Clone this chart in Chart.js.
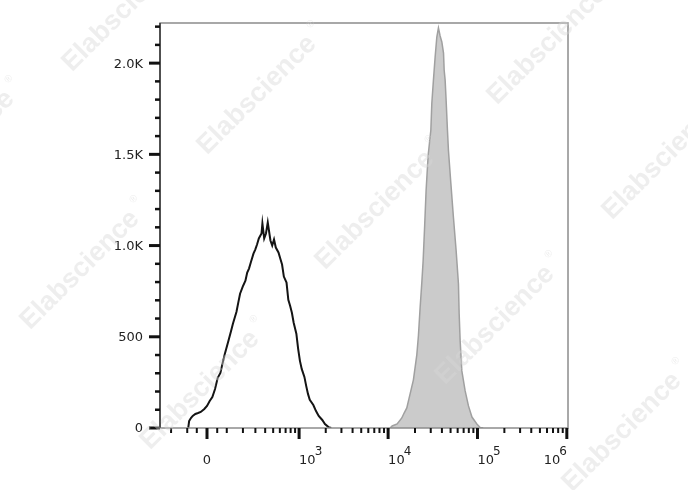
<!DOCTYPE html>
<html>
<head>
<meta charset="utf-8">
<script src="https://cdn.jsdelivr.net/npm/chart.js@4.4.1/dist/chart.umd.min.js"></script>
<style>
html, body { margin: 0; padding: 0; background: #fff; }
#wrap { width: 688px; height: 490px; position: relative; }
</style>
</head>
<body>
<div id="wrap"><canvas id="histChart" width="688" height="490"></canvas></div>
<script>
// x values are in biex display units (one decade = 1.0, zero at 0)
const unstainedX = [-0.21, -0.20, -0.18, -0.16, -0.13, -0.10, -0.07, -0.03, 0.00, 0.03, 0.06, 0.09, 0.12, 0.15, 0.17, 0.20,
    0.24, 0.27, 0.29, 0.33, 0.35, 0.37, 0.40, 0.43, 0.45, 0.47, 0.49, 0.52, 0.54, 0.56, 0.58, 0.61, 0.62, 0.64, 0.66, 0.68,
    0.71, 0.73, 0.75, 0.77, 0.80, 0.82, 0.84, 0.86, 0.89, 0.91, 0.93, 0.95, 0.97, 1.00, 1.02, 1.04, 1.06, 1.09, 1.11, 1.13,
    1.15, 1.19, 1.22, 1.25, 1.29, 1.32, 1.36, 1.39];
const unstainedY = [0, 38, 55, 66, 77, 82, 88, 104, 121, 148, 170, 214, 275, 302, 346, 407,
    478, 533, 571, 637, 687, 736, 775, 808, 852, 874, 907, 956, 978, 1006, 1039, 1066, 1121, 1039, 1066, 1126,
    1028, 1000, 1033, 989, 962, 929, 896, 830, 797, 703, 670, 632, 577, 517, 434, 368, 324, 280, 231, 187,
    154, 126, 93, 66, 44, 22, 5, 0];

const stainedX = [2.049, 2.072, 2.128, 2.180, 2.206, 2.236, 2.273, 2.310, 2.348, 2.366, 2.385, 2.404, 2.419, 2.436,
    2.452, 2.475, 2.505, 2.516, 2.534, 2.553, 2.572, 2.590, 2.609, 2.628, 2.647, 2.654, 2.665, 2.676, 2.691, 2.702,
    2.729, 2.758, 2.788, 2.814, 2.822, 2.833, 2.852, 2.889, 2.926, 2.965, 3.020, 3.057, 3.091];
const stainedY = [0, 11, 22, 55, 82, 110, 187, 264, 401, 506, 659, 797, 918, 1110,
    1302, 1495, 1632, 1780, 1907, 2033, 2143, 2193, 2149, 2116, 2055, 1962, 1907, 1797, 1632, 1522,
    1341, 1154, 973, 791, 626, 478, 313, 203, 121, 60, 22, 3, 0];

const yTickValues = [0, 500, 1000, 1500, 2000];
const yTickLabels = ["0", "500", "1.0K", "1.5K", "2.0K"];
const xTickValues = [0, 1e3, 1e4, 1e5, 1e6];
const xTickBase = ["0", "10", "10", "10", "10"];
const xTickExp = ["", "3", "4", "5", "6"];
const watermarkText = "Elabscience";

// biex-like transform: raw value -> display units
function biex(v) {
    return Math.asinh(v / 188) / Math.LN10;
}

function toPoints(xs, ys) {
    return xs.map((x, i) => ({ x: x, y: ys[i] }));
}

// minor ticks for the x axis (raw values)
let xMinor = [-300, -200, -100, -50, 50];
for (let k = 1; k <= 9; k++) xMinor.push(k * 100);
[1e3, 1e4, 1e5].forEach(d => {
    for (let k = 2; k <= 9; k++) xMinor.push(k * d);
});

const axisPlugin = {
    id: "flowAxes",
    afterDraw(chart) {
        const ctx = chart.ctx;
        const area = chart.chartArea;
        const xs = chart.scales.x;
        const ys = chart.scales.y;
        ctx.save();

        // frame
        ctx.strokeStyle = "#8c8c8c";
        ctx.lineWidth = 1.5;
        ctx.strokeRect(area.left, area.top, area.right - area.left, area.bottom - area.top);
        ctx.strokeStyle = "#333";
        ctx.beginPath();
        ctx.moveTo(area.left, area.top);
        ctx.lineTo(area.left, area.bottom);
        ctx.stroke();

        ctx.strokeStyle = "#111";
        // y ticks
        for (let v = 100; v <= 2200; v += 100) {
            if (v % 500 === 0) continue;
            let py = ys.getPixelForValue(v);
            ctx.lineWidth = 2.5;
            ctx.beginPath();
            ctx.moveTo(area.left - 5, py);
            ctx.lineTo(area.left, py);
            ctx.stroke();
        }
        ctx.font = "13px 'DejaVu Sans'";
        ctx.fillStyle = "#222";
        ctx.textAlign = "right";
        ctx.textBaseline = "middle";
        yTickValues.forEach((v, i) => {
            let py = ys.getPixelForValue(v);
            ctx.lineWidth = 3;
            ctx.beginPath();
            ctx.moveTo(area.left - 11, py);
            ctx.lineTo(area.left, py);
            ctx.stroke();
            ctx.fillText(yTickLabels[i], area.left - 17, py + 1);
        });

        // x ticks
        xMinor.forEach(v => {
            let px = xs.getPixelForValue(biex(v));
            if (px < area.left || px > area.right) return;
            ctx.lineWidth = 2;
            ctx.beginPath();
            ctx.moveTo(px, area.bottom);
            ctx.lineTo(px, area.bottom + 5);
            ctx.stroke();
        });
        ctx.textBaseline = "alphabetic";
        xTickValues.forEach((v, i) => {
            let px = xs.getPixelForValue(biex(v));
            ctx.lineWidth = 3;
            ctx.beginPath();
            ctx.moveTo(px, area.bottom);
            ctx.lineTo(px, area.bottom + 11);
            ctx.stroke();
            ctx.font = "13px 'DejaVu Sans'";
            if (xTickExp[i] === "") {
                ctx.textAlign = "center";
                ctx.fillText(xTickBase[i], px, area.bottom + 36);
                return;
            }
            let baseW = ctx.measureText(xTickBase[i]).width;
            ctx.font = "12px 'DejaVu Sans'";
            let expW = ctx.measureText(xTickExp[i]).width;
            let startX = (i === xTickValues.length - 1) ? px - baseW - expW + 1 : px;
            ctx.textAlign = "left";
            ctx.font = "13px 'DejaVu Sans'";
            ctx.fillText(xTickBase[i], startX, area.bottom + 36);
            ctx.font = "12px 'DejaVu Sans'";
            ctx.fillText(xTickExp[i], startX + baseW - 1, area.bottom + 27);
        });

        // watermark
        const marks = [[122, 12], [257, 95], [547, 45], [-45, 150], [662, 160], [375, 210],
            [80, 270], [495, 325], [200, 390], [622, 432]];
        ctx.font = "bold 27px 'Liberation Sans'";
        ctx.fillStyle = "rgba(215,215,215,0.42)";
        ctx.textAlign = "center";
        ctx.textBaseline = "middle";
        marks.forEach(m => {
            ctx.save();
            ctx.translate(m[0], m[1]);
            ctx.rotate(-Math.PI / 4);
            ctx.fillText(watermarkText, 0, 0);
            ctx.font = "10px 'Liberation Sans'";
            ctx.fillText("\u00AE", 88, -12);
            ctx.restore();
        });
        ctx.restore();
    }
};

new Chart(document.getElementById("histChart"), {
    type: "line",
    data: {
        datasets: [
            {
                label: "Stained",
                data: toPoints(stainedX, stainedY),
                borderColor: "#a0a0a0",
                backgroundColor: "#cbcbcb",
                borderWidth: 1.5,
                pointRadius: 0,
                fill: "origin",
                tension: 0
            },
            {
                label: "Unstained",
                data: toPoints(unstainedX, unstainedY),
                borderColor: "#141414",
                borderWidth: 2,
                pointRadius: 0,
                fill: false,
                tension: 0
            }
        ]
    },
    options: {
        responsive: false,
        animation: false,
        devicePixelRatio: 1,
        layout: { padding: { left: 160, right: 120, top: 23, bottom: 62 } },
        plugins: {
            legend: { display: false },
            tooltip: { enabled: false }
        },
        scales: {
            x: { type: "linear", min: -0.526, max: 4.04, display: false },
            y: { min: 0, max: 2220, display: false }
        }
    },
    plugins: [axisPlugin]
});
</script>
</body>
</html>
